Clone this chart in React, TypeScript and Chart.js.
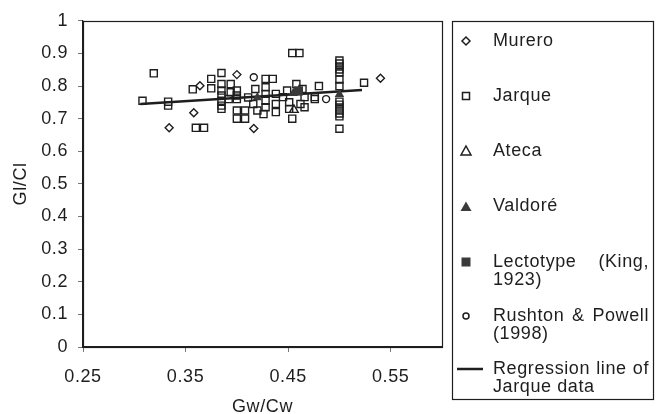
import React, { useEffect, useRef } from 'react';
import { Chart, registerables } from 'chart.js';

Chart.register(...registerables);

const FONT_FAMILY = '"Liberation Sans", Arial, Helvetica, sans-serif';
const FONT_SIZE = 18;
const LETTER_SPACING = '0.6px';
const INK = '#1e1e1e';
const FILLED = '#3a3a3a';

// ---- data ----
const X_TICKS = [0.25, 0.35, 0.45, 0.55];
const Y_TICKS = [0, 0.1, 0.2, 0.3, 0.4, 0.5, 0.6, 0.7, 0.8, 0.9, 1];

const MURERO: [number, number][] = [
  [0.334, 0.672], [0.358, 0.718], [0.364, 0.801], [0.400, 0.835], [0.4165, 0.670], [0.540, 0.824],
];

const JARQUE: [number, number][] = [
  [0.308, 0.755], [0.319, 0.839], [0.333, 0.752], [0.333, 0.740], [0.357, 0.790],
  [0.375, 0.822], [0.385, 0.840], [0.375, 0.793], [0.385, 0.806], [0.394, 0.806],
  [0.385, 0.786], [0.394, 0.781], [0.385, 0.771], [0.385, 0.755], [0.385, 0.740],
  [0.385, 0.730], [0.392, 0.760], [0.400, 0.786], [0.400, 0.771], [0.400, 0.760],
  [0.400, 0.725], [0.400, 0.700], [0.408, 0.700], [0.360, 0.672], [0.368, 0.672],
  [0.408, 0.725], [0.411, 0.765], [0.418, 0.791], [0.416, 0.745], [0.420, 0.725],
  [0.426, 0.714], [0.428, 0.822], [0.435, 0.822], [0.428, 0.796], [0.428, 0.776],
  [0.428, 0.755], [0.428, 0.735], [0.438, 0.776], [0.438, 0.745], [0.438, 0.720],
  [0.445, 0.766], [0.449, 0.786], [0.451, 0.750], [0.451, 0.730], [0.454, 0.700],
  [0.458, 0.806], [0.464, 0.791], [0.462, 0.745], [0.466, 0.766], [0.466, 0.735],
  [0.476, 0.766], [0.476, 0.760], [0.480, 0.800], [0.454, 0.901], [0.461, 0.901],
  [0.500, 0.878], [0.500, 0.869], [0.500, 0.860], [0.500, 0.851], [0.500, 0.842],
  [0.500, 0.820], [0.500, 0.800], [0.500, 0.752], [0.500, 0.743], [0.500, 0.734],
  [0.500, 0.725], [0.500, 0.716], [0.500, 0.707], [0.500, 0.669], [0.524, 0.810],
];

const ATECA: [number, number][] = [[0.4556, 0.727]];
const VALDORE: [number, number][] = [[0.420, 0.765], [0.455, 0.778], [0.500, 0.775]];
const LECTOTYPE: [number, number][] = [[0.460, 0.785]];
const RUSHTON: [number, number][] = [[0.4165, 0.827], [0.487, 0.760]];
const REGRESSION: [number, number][] = [[0.306, 0.745], [0.522, 0.788]];

const LEGEND_LINES: string[][] = [
  ['Murero'],
  ['Jarque'],
  ['Ateca'],
  ['Valdoré'],
  ['Lectotype (King,', '1923)'],
  ['Rushton & Powell', '(1998)'],
  ['Regression line of', 'Jarque data'],
];
const LEGEND_KINDS = ['diamond', 'square', 'triangle', 'triangleFilled', 'squareFilled', 'circle', 'line'];

const toXY = (arr: [number, number][]) => arr.map(([x, y]) => ({ x, y }));
const fmt = (v: number | string) => String(Math.round(Number(v) * 100) / 100);

const font = (size: number, lineHeight = 1.2) => ({ family: FONT_FAMILY, size, lineHeight });

function drawMarker(ctx: CanvasRenderingContext2D, kind: string, x: number, y: number) {
  ctx.save();
  ctx.strokeStyle = INK;
  ctx.fillStyle = FILLED;
  ctx.lineWidth = 1.5;
  ctx.beginPath();
  switch (kind) {
    case 'diamond':
      ctx.moveTo(x, y - 4); ctx.lineTo(x + 4, y); ctx.lineTo(x, y + 4); ctx.lineTo(x - 4, y); ctx.closePath();
      ctx.stroke();
      break;
    case 'square':
      ctx.rect(x - 3.5, y - 3.5, 7, 7); ctx.stroke();
      break;
    case 'triangle':
      ctx.moveTo(x, y - 5); ctx.lineTo(x + 5, y + 4); ctx.lineTo(x - 5, y + 4); ctx.closePath(); ctx.stroke();
      break;
    case 'triangleFilled':
      ctx.moveTo(x, y - 5); ctx.lineTo(x + 5.5, y + 4.5); ctx.lineTo(x - 5.5, y + 4.5); ctx.closePath(); ctx.fill();
      break;
    case 'squareFilled':
      ctx.rect(x - 4.5, y - 4.5, 9, 9); ctx.fill();
      break;
    case 'circle':
      ctx.arc(x, y, 3, 0, Math.PI * 2); ctx.stroke();
      break;
    case 'line':
      ctx.lineWidth = 2.5;
      ctx.moveTo(x - 9, y); ctx.lineTo(x + 17, y); ctx.stroke();
      break;
  }
  ctx.restore();
}

function drawJustified(ctx: CanvasRenderingContext2D, text: string, x: number, right: number, y: number) {
  const words = text.split(' ');
  if (words.length < 2) { ctx.fillText(text, x, y); return; }
  const widths = words.map((w) => ctx.measureText(w).width);
  const total = widths.reduce((a, b) => a + b, 0);
  const gap = (right - x - total) / (words.length - 1);
  let cx = x;
  words.forEach((w, i) => { ctx.fillText(w, cx, y); cx += widths[i] + gap; });
}

const spacingPlugin = {
  id: 'letterSpacing',
  beforeUpdate(chart: any) { (chart.ctx as any).letterSpacing = LETTER_SPACING; },
  beforeDraw(chart: any) { (chart.ctx as any).letterSpacing = LETTER_SPACING; },
};

const framePlugin = {
  id: 'frameAndLegend',
  afterDraw(chart: any) {
    const ctx: CanvasRenderingContext2D = chart.ctx;
    const a = chart.chartArea;
    ctx.save();
    (ctx as any).letterSpacing = LETTER_SPACING;
    ctx.strokeStyle = INK;
    ctx.lineWidth = 1.2;
    ctx.strokeRect(Math.round(a.left) + 0.5, Math.round(a.top) + 0.5, Math.round(a.right - a.left), Math.round(a.bottom - a.top));

    // legend box
    const box = { l: 452, t: 21, r: 653, b: 399 };
    ctx.strokeRect(box.l + 0.5, box.t + 0.5, box.r - box.l, box.b - box.t);
    const itemY = [41, 96, 151, 206.5, 262, 316, 369];
    const lineH = 18.5;
    const markerX = 466;
    const textX = 493;
    const textRight = 649;
    ctx.font = `${FONT_SIZE}px ${FONT_FAMILY}`;
    ctx.fillStyle = INK;
    ctx.textBaseline = 'middle';
    ctx.textAlign = 'left';
    LEGEND_LINES.forEach((lines, i) => {
      const y = itemY[i];
      drawMarker(ctx, LEGEND_KINDS[i], markerX, y);
      lines.forEach((line, j) => {
        const ly = y + j * lineH;
        if (j < lines.length - 1) drawJustified(ctx, line, textX, textRight, ly);
        else ctx.fillText(line, textX, ly);
      });
    });
    ctx.restore();
  },
};

export default function App() {
  const ref = useRef<HTMLCanvasElement | null>(null);

  useEffect(() => {
    if (!ref.current) return;
    const open = { borderColor: INK, backgroundColor: 'rgba(0,0,0,0)', borderWidth: 1.4 };
    const chart = new Chart(ref.current, {
      type: 'scatter',
      data: {
        datasets: [
          { label: 'Lectotype (King, 1923)', data: toXY(LECTOTYPE), pointStyle: 'rect', pointRadius: 6.5, backgroundColor: FILLED, borderColor: FILLED, borderWidth: 0, order: 0 },
          { label: 'Valdoré', data: toXY(VALDORE), pointStyle: 'triangle', pointRadius: 5.5, backgroundColor: FILLED, borderColor: FILLED, borderWidth: 0, order: 0 },
          { label: 'Regression line of Jarque data', data: toXY(REGRESSION), showLine: true, borderColor: INK, borderWidth: 2.5, pointRadius: 0, order: 1 },
          { label: 'Ateca', data: toXY(ATECA), pointStyle: 'triangle', pointRadius: 5, ...open, order: 2 },
          { label: 'Rushton & Powell (1998)', data: toXY(RUSHTON), pointStyle: 'circle', pointRadius: 3.5, ...open, order: 2 },
          { label: 'Murero', data: toXY(MURERO), pointStyle: 'rectRot', pointRadius: 4, ...open, order: 2 },
          { label: 'Jarque', data: toXY(JARQUE), pointStyle: 'rect', pointRadius: 5, ...open, order: 3 },
        ],
      },
      options: {
        responsive: false,
        animation: false,
        layout: { padding: { top: 20, right: 215, bottom: 0, left: 0 } },
        plugins: { legend: { display: false }, tooltip: { enabled: false } },
        scales: {
          x: {
            type: 'linear',
            min: 0.25,
            max: 0.6,
            afterBuildTicks: (s: any) => { s.ticks = X_TICKS.map((v) => ({ value: v })); },
            afterFit: (s: any) => { s.height = 67; },
            grid: { drawOnChartArea: false, drawTicks: true, tickLength: 5, color: '#777' },
            border: { display: true, color: INK, width: 1.2 },
            ticks: { font: font(FONT_SIZE), color: INK, padding: 14, maxRotation: 0, autoSkip: false, callback: (v: any) => fmt(v) },
            title: { display: true, text: 'Gw/Cw', font: font(FONT_SIZE, 1), color: INK, padding: { top: 0, bottom: -2 } },
          },
          y: {
            type: 'linear',
            min: 0,
            max: 1,
            afterBuildTicks: (s: any) => { s.ticks = Y_TICKS.map((v) => ({ value: v })); },
            afterFit: (s: any) => { s.width = 83; },
            grid: { drawOnChartArea: false, drawTicks: true, tickLength: 5, color: '#777' },
            border: { display: true, color: INK, width: 1.2 },
            ticks: { font: font(FONT_SIZE), color: INK, padding: 10, autoSkip: false, callback: (v: any) => fmt(v) },
            title: { display: true, text: 'Gl/Cl', font: font(FONT_SIZE), color: INK, padding: { top: 10, bottom: 0 } },
          },
        },
      },
      plugins: [spacingPlugin, framePlugin],
    } as any);
    return () => chart.destroy();
  }, []);

  return (
    <div style={{ position: 'fixed', left: 0, top: 0, width: 657, height: 414, background: '#fff' }}>
      <canvas ref={ref} width={657} height={414} style={{ display: 'block' }} />
    </div>
  );
}
